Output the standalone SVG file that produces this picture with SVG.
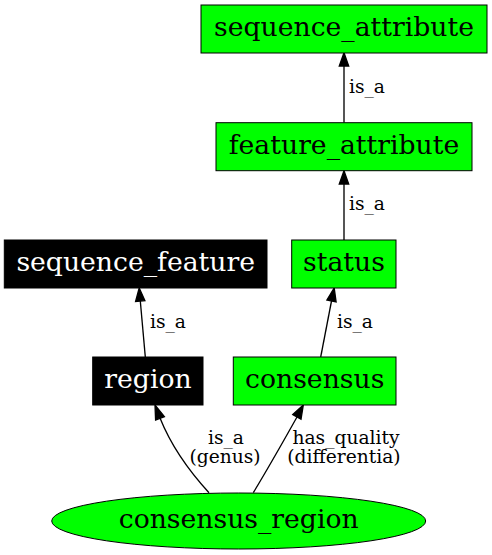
<svg xmlns="http://www.w3.org/2000/svg" width="492" height="555" viewBox="0 0 492 555">
<style>
.box{stroke:#000;stroke-width:1}
.g{fill:#00ff00}
.b{fill:#000}
.nt{font-family:"DejaVu Serif",serif;font-size:26.67px;text-anchor:middle}
.et{font-family:"DejaVu Serif",serif;font-size:18.67px}
.e{fill:none;stroke:#000;stroke-width:1.33}
.ah{fill:#000;stroke:#000;stroke-width:1.33}
</style>
<rect width="492" height="555" fill="#fff"/>
<g id="edges">
<path class="e" d="M344,122.7 L344,66"/>
<polygon class="ah" points="339.3,66 344,52.7 348.7,66"/>
<text class="et" x="349" y="93">is_a</text>
<path class="e" d="M344,240 L344,184"/>
<polygon class="ah" points="339.3,184 344,170.7 348.7,184"/>
<text class="et" x="349" y="210">is_a</text>
<path class="e" d="M145.3,357 L140.3,301"/>
<polygon class="ah" points="135.6,301.4 139.2,288 144.9,300.6"/>
<text class="et" x="150" y="328">is_a</text>
<path class="e" d="M320.7,357 L331.5,301"/>
<polygon class="ah" points="326.9,300.1 334.2,288 336.1,301.9"/>
<text class="et" x="337" y="328">is_a</text>
<path class="e" d="M209,492.7 C190,472 172,448 160,418"/>
<polygon class="ah" points="155.6,420 155,405 164.4,416.6"/>
<text class="et" x="226" y="444" text-anchor="middle">is_a</text>
<text class="et" x="225" y="463" text-anchor="middle">(genus)</text>
<path class="e" d="M253.3,492.7 C267,470 283,442 297,417"/>
<polygon class="ah" points="292.8,414.6 303.3,405 301,419.2"/>
<text class="et" x="346" y="444" text-anchor="middle">has_quality</text>
<text class="et" x="344" y="463" text-anchor="middle">(differentia)</text>
</g>
<g id="sequence_attribute">
<rect class="box g" x="201" y="5" width="286" height="48"/>
<text class="nt" x="344" y="35.5">sequence_attribute</text>
</g>
<g id="feature_attribute">
<rect class="box g" x="216" y="122.7" width="256" height="48"/>
<text class="nt" x="344" y="153.5">feature_attribute</text>
</g>
<g id="status">
<rect class="box g" x="291.7" y="240" width="104.3" height="48"/>
<text class="nt" x="344" y="270.5">status</text>
</g>
<g id="sequence_feature">
<rect class="box b" x="4.3" y="240" width="262.7" height="48"/>
<text class="nt" x="135.7" y="270.5" fill="#fff">sequence_feature</text>
</g>
<g id="region">
<rect class="box b" x="92.7" y="357" width="110.3" height="48"/>
<text class="nt" x="148" y="387.5" fill="#fff">region</text>
</g>
<g id="consensus">
<rect class="box g" x="233.3" y="357" width="162.7" height="48"/>
<text class="nt" x="314.7" y="387.5">consensus</text>
</g>
<g id="consensus_region">
<ellipse class="box g" cx="238.7" cy="521" rx="187" ry="28"/>
<text class="nt" x="238.7" y="528">consensus_region</text>
</g>
</svg>
